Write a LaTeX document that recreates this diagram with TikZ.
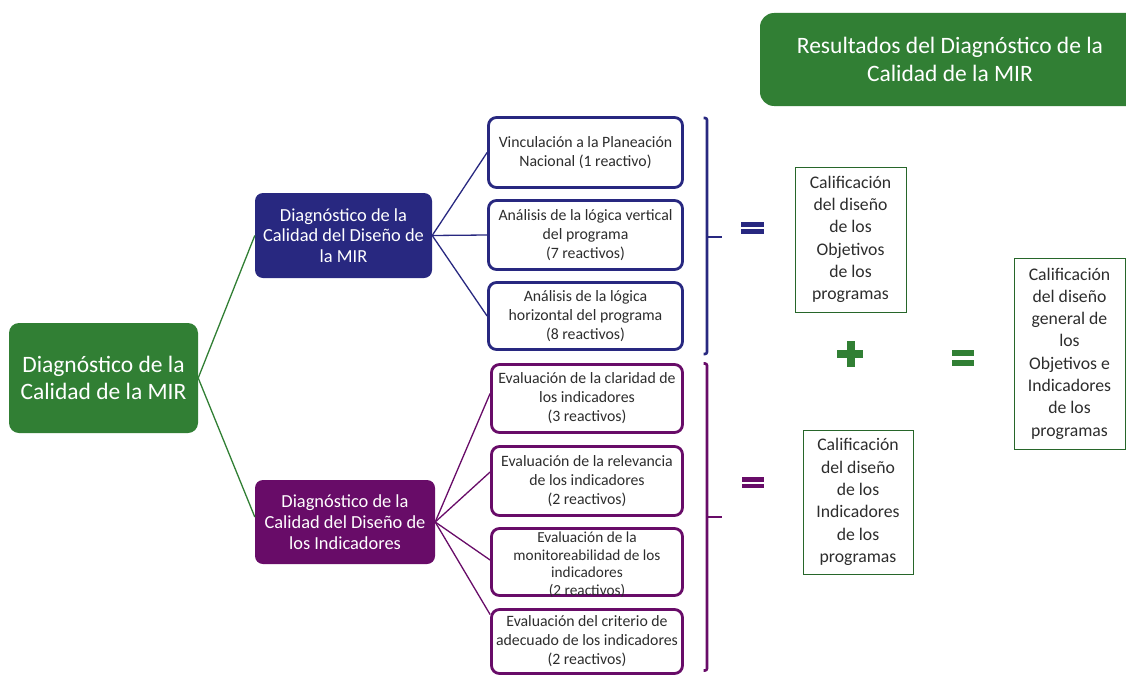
\documentclass[tikz,border=0pt]{standalone}
\usepackage{fontspec}
\setmainfont{Carlito}
\definecolor{mgreen}{RGB}{49,127,52}
\definecolor{mnavy}{RGB}{40,40,128}
\definecolor{mpurple}{RGB}{104,12,104}
\definecolor{mtext}{RGB}{45,45,45}
\tikzset{
  topbox/.style={fill=mgreen, draw=none, rounded corners=10pt, text=white, align=center, inner sep=0pt,
    font=\fontsize{23.5}{27.5}\selectfont},
  lvlone/.style={draw=none, rounded corners=8pt, text=white, align=center, inner sep=0pt,
    font=\fontsize{18.4}{20.8}\selectfont, minimum height=85pt},
  leafbox/.style={draw, line width=2.8pt, rounded corners=8pt, fill=white, text=mtext, align=center, inner sep=0pt,
    font=\fontsize{15.8}{19}\selectfont, minimum width=194pt},
  resbox/.style={draw=mgreen!80!black, line width=0.8pt, fill=white, text=mtext, align=center, inner sep=0pt,
    font=\fontsize{17.7}{22.3}\selectfont},
  gline/.style={draw=mgreen, line width=1.3pt},
  bline/.style={draw=mnavy, line width=1.3pt},
  pline/.style={draw=mpurple, line width=1.3pt},
  bracketline/.style={line width=2.6pt, rounded corners=2pt}
}
\begin{document}
\begin{tikzpicture}[x=1pt, y=-1pt]
\clip (0,0) rectangle (1126,677);
\fill[white] (0,0) rectangle (1126,677);

% top-right title
\node[topbox, minimum width=380pt, minimum height=93pt, rounded corners=14pt] (res) at (950,59.5)
  {Resultados del Diagnóstico de la\\Calidad de la MIR};

% root
\node[topbox, minimum width=189pt, minimum height=110pt] (root) at (103.5,378)
  {Diagnóstico de la\\Calidad de la MIR};

% level one
\node[lvlone, fill=mnavy, minimum width=177pt] (mir) at (343.5,235.5)
  {Diagnóstico de la\\Calidad del Diseño de\\la MIR};
\node[lvlone, fill=mpurple, minimum width=180pt, minimum height=84pt] (ind) at (345,522)
  {Diagnóstico de la\\Calidad del Diseño de\\los Indicadores};

% blue leaves
\node[leafbox, draw=mnavy, minimum width=194pt, minimum height=70pt] (b1) at (585.5,152.5)
  {Vinculación a la Planeación\\Nacional (1 reactivo)};
\node[leafbox, draw=mnavy, minimum width=194pt, minimum height=69pt] (b2) at (585.5,235)
  {Análisis de la lógica vertical\\del programa\\(7 reactivos)};
\node[leafbox, draw=mnavy, minimum width=194pt, minimum height=67pt] (b3) at (585.5,316)
  {Análisis de la lógica\\horizontal del programa\\(8 reactivos)};

% purple leaves
\node[leafbox, draw=mpurple, minimum width=191pt, minimum height=68pt] (p1) at (587,398.5)
  {Evaluación de la claridad de\\los indicadores\\(3 reactivos)};
\node[leafbox, draw=mpurple, minimum width=191pt, minimum height=69pt] (p2) at (587,481)
  {Evaluación de la relevancia\\de los indicadores\\(2 reactivos)};
\node[leafbox, draw=mpurple, minimum width=191pt, minimum height=67pt] (p3) at (587,562)
  {};
\node[font=\fontsize{15.3}{17.5}\selectfont, text=mtext, align=center, inner sep=0pt] (p3t) at (587,564.5)
  {Evaluación de la\\monitoreabilidad de los\\indicadores\\(2 reactivos)};
\node[leafbox, draw=mpurple, minimum width=191pt, minimum height=64pt] (p4) at (587,641.5)
  {Evaluación del criterio de\\adecuado de los indicadores\\(2 reactivos)};

% result boxes
\node[resbox, minimum width=111pt, minimum height=145pt] (r1) at (850.5,239.5)
  {Calificación\\del diseño\\de los\\Objetivos\\de los\\programas};
\node[resbox, minimum width=110pt, minimum height=144pt] (r2) at (858,502)
  {Calificación\\del diseño\\de los\\Indicadores\\de los\\programas};
\node[resbox, minimum width=111pt, minimum height=191pt] (r3) at (1069.5,353.5)
  {Calificación\\del diseño\\general de\\los\\Objetivos e\\Indicadores\\de los\\programas};

% connectors
\draw[gline] (root.east) -- (mir.west);
\draw[gline] (root.east) -- ([yshift=5pt]ind.west);
\draw[bline] (mir.east) -- (b1.west);
\draw[bline] (mir.east) -- (b2.west);
\draw[bline] (mir.east) -- (b3.west);
\draw[pline] (ind.east) -- ([yshift=5pt]p1.west);
\draw[pline] (ind.east) -- ([yshift=9pt]p2.west);
\draw[pline] (ind.east) -- ([yshift=2pt]p3.west);
\draw[pline] (ind.east) -- ([yshift=27pt]p4.west);

% brackets
\draw[bracketline, draw=mnavy] (703.5,118) -- (707,118) -- (707,354) -- (703.5,354);
\draw[line width=1.8pt, draw=mnavy] (707,237) -- (722,237);
\draw[bracketline, draw=mpurple] (703.5,363.5) -- (707,363.5) -- (707,670.5) -- (703.5,670.5);
\draw[line width=1.8pt, draw=mpurple] (707,517) -- (722,517);

% equals and plus signs
\fill[mnavy] (741,222) rectangle (764,226.5);
\fill[mnavy] (741,229) rectangle (764,233.5);
\fill[mpurple] (742,477) rectangle (764,481.5);
\fill[mpurple] (742,483.5) rectangle (764,488);
\fill[mgreen] (952,350) rectangle (974,356);
\fill[mgreen] (952,360) rectangle (974,366);
\fill[mgreen] (846.5,341) rectangle (854.5,367);
\fill[mgreen] (837,349.5) rectangle (863,357.5);
\end{tikzpicture}
\end{document}
